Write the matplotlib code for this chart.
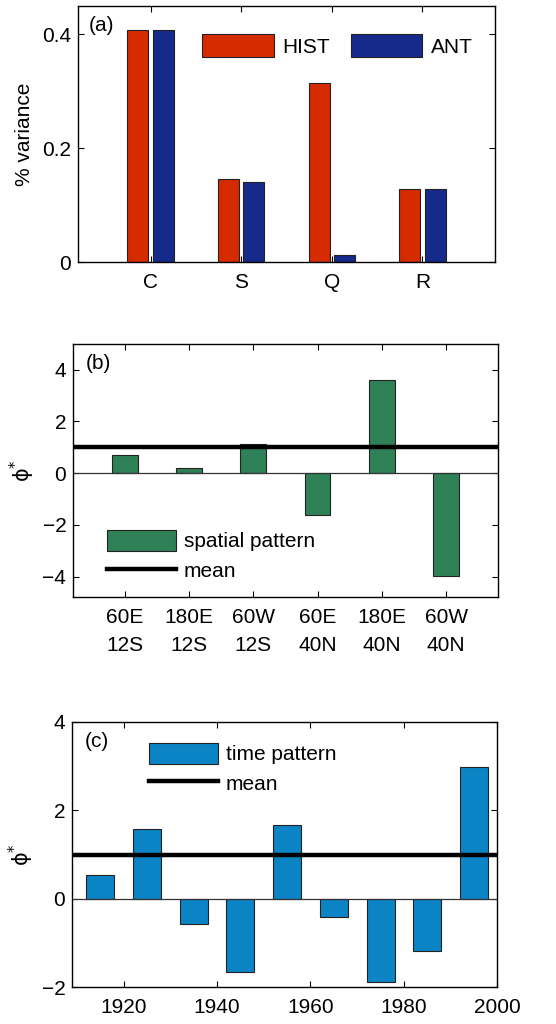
import matplotlib
matplotlib.use("Agg")
import matplotlib.pyplot as plt
import numpy as np

plt.rcParams['font.family'] = ['Liberation Sans', 'DejaVu Sans']
plt.rcParams['font.size'] = 15
plt.rcParams['mathtext.fontset'] = 'dejavusans'

# panel (a)
var_cats = ["C", "S", "Q", "R"]
hist_var = [0.408, 0.146, 0.314, 0.129]
ant_var = [0.408, 0.140, 0.012, 0.129]

# panel (b)
space_labels = ["60E\n12S", "180E\n12S", "60W\n12S", "60E\n40N", "180E\n40N", "60W\n40N"]
space_vals = [0.71, 0.18, 1.12, -1.61, 3.58, -3.96]
space_mean = 1.0

# panel (c)
decades = [1915, 1925, 1935, 1945, 1955, 1965, 1975, 1985, 1995]
time_vals = [0.54, 1.58, -0.58, -1.66, 1.66, -0.41, -1.89, -1.18, 2.98]
time_mean = 1.0

RED = "#d62a00"
NAVY = "#162a8c"
GREEN = "#2e8056"
BLUE = "#0b84c6"

PHI = r"$\mathrm{\phi}^{*}$"


def style(ax):
    ax.tick_params(direction="in", top=True, right=True, length=4, width=0.8)
    ax.tick_params(axis="x", pad=8)
    ax.tick_params(axis="y", pad=5)
    for s in ax.spines.values():
        s.set_linewidth(1.0)


fig = plt.figure(figsize=(5.56, 10.24), dpi=100)

# (a)
ax1 = fig.add_axes([0.1403, 0.7441, 0.75, 0.25])
x = np.arange(1, len(var_cats) + 1)
ax1.bar(x - 0.14, hist_var, width=0.23, color=RED, edgecolor="#222222", lw=0.8, label="HIST")
ax1.bar(x + 0.14, ant_var, width=0.23, color=NAVY, edgecolor="#222222", lw=0.8, label="ANT")
ax1.set_xlim(0.2, 4.8)
ax1.set_ylim(0, 0.45)
ax1.set_xticks(x)
ax1.set_xticklabels(var_cats)
ax1.set_yticks([0, 0.2, 0.4])
ax1.set_yticklabels(["0", "0.2", "0.4"])
ax1.set_ylabel("% variance")
ax1.yaxis.set_label_coords(-0.105, 0.5)
ax1.text(0.025, 0.925, "(a)", transform=ax1.transAxes, va="center", ha="left")
ax1.legend(loc="upper left", bbox_to_anchor=(0.297, 0.89), ncol=2, frameon=False,
           borderpad=0, borderaxespad=0, handlelength=3.45, handleheight=1.3,
           columnspacing=1.0, handletextpad=0.4)
style(ax1)

# (b)
ax2 = fig.add_axes([0.1318, 0.4167, 0.7633, 0.2477])
xs = np.arange(1, len(space_vals) + 1)
bars_b = ax2.bar(xs, space_vals, width=0.4, color=GREEN, edgecolor="#222222", lw=0.8)
ax2.axhline(0, color="#333333", lw=0.9)
line_b = ax2.axhline(space_mean, color="black", lw=3.2)
ax2.set_xlim(0.2, 6.8)
ax2.set_ylim(-4.8, 5)
ax2.set_xticks(xs)
ax2.set_xticklabels(space_labels, linespacing=1.6)
ax2.set_yticks([-4, -2, 0, 2, 4])
ax2.set_yticklabels(["\u22124", "\u22122", "0", "2", "4"])
ax2.set_ylabel(PHI)
ax2.yaxis.set_label_coords(-0.085, 0.5)
ax2.text(0.03, 0.92, "(b)", transform=ax2.transAxes, va="center", ha="left")
ax2.legend([bars_b, line_b], ["spatial pattern", "mean"], loc="upper left",
           bbox_to_anchor=(0.079, 0.265), frameon=False,
           borderpad=0, borderaxespad=0, handlelength=3.3, handleheight=1.15,
           labelspacing=0.4, handletextpad=0.4)
style(ax2)

# (c)
ax3 = fig.add_axes([0.130, 0.0358, 0.7644, 0.2594])
bars_c = ax3.bar(decades, time_vals, width=6, color=BLUE, edgecolor="#222222", lw=0.8)
ax3.axhline(0, color="#333333", lw=0.9)
line_c = ax3.axhline(time_mean, color="black", lw=3.2)
ax3.set_xlim(1909, 2000)
ax3.set_ylim(-2, 4)
ax3.set_xticks([1920, 1940, 1960, 1980, 2000])
ax3.set_yticks([-2, 0, 2, 4])
ax3.set_yticklabels(["\u22122", "0", "2", "4"])
ax3.set_ylabel(PHI)
ax3.yaxis.set_label_coords(-0.085, 0.5)
ax3.text(0.03, 0.925, "(c)", transform=ax3.transAxes, va="center", ha="left")
ax3.legend([bars_c, line_c], ["time pattern", "mean"], loc="upper left",
           bbox_to_anchor=(0.18, 0.92), frameon=False,
           borderpad=0, borderaxespad=0, handlelength=3.3, handleheight=1.15,
           labelspacing=0.4, handletextpad=0.4)
style(ax3)

fig.savefig("out.png", dpi=100)
